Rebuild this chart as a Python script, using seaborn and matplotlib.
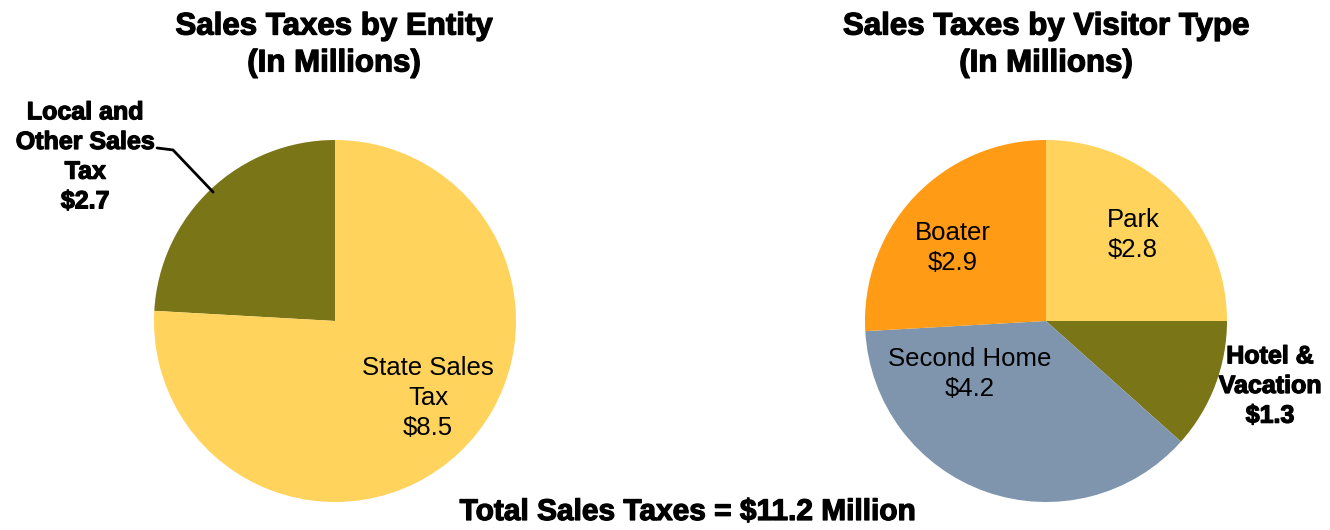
import numpy as np
import matplotlib
matplotlib.use("Agg")
import matplotlib.pyplot as plt
import matplotlib.patheffects as pe
import seaborn as sns

# ── Data ──────────────────────────────────────────────────────────────────────
entity_labels = ["Local and\nOther Sales\nTax", "State Sales\nTax"]
entity_values = [2.7, 8.5]

visitor_labels = ["Park", "Hotel &\nVacation", "Second Home", "Boater"]
visitor_values = [2.8, 1.3, 4.2, 2.9]

total_sales = 11.2

YELLOW = "#FFD35C"
OLIVE = "#7A7516"
ORANGE = "#FF9B14"
SLATE = "#7F95AD"

sns.set_theme(style="white")
plt.rcParams["font.family"] = ["Liberation Sans", "DejaVu Sans"]
plt.rcParams["text.color"] = "black"

fig = plt.figure(figsize=(13.3, 5.3), dpi=100)

R_W, R_H = 362 / 1330, 362 / 530
ax1 = fig.add_axes([(335 - 181) / 1330, 28 / 530, R_W, R_H])
ax2 = fig.add_axes([(1046 - 181) / 1330, 28 / 530, R_W, R_H])

heavy = [pe.withStroke(linewidth=0.9, foreground="black")]


def money(v):
    return f"${v:.1f}"


# ── Left pie: by entity ───────────────────────────────────────────────────────
w1, _ = ax1.pie(entity_values, colors=[OLIVE, YELLOW], startangle=90,
                counterclock=True, wedgeprops={"linewidth": 0})
ax1.set_xlim(-1, 1)
ax1.set_ylim(-1, 1)
ax1.set_aspect("equal")
ax1.axis("off")

ax1.text(0.514, -0.425, f"{entity_labels[1]}\n{money(entity_values[1])}",
         ha="center", va="center", fontsize=18.5, linespacing=1.32)

# outside label with leader line
mid = np.deg2rad((w1[0].theta1 + w1[0].theta2) / 2)
ex, ey = 0.98 * np.cos(mid), 0.98 * np.sin(mid)
ax1.plot([-0.983, -0.895, ex], [0.956, 0.945, ey], color="black", lw=2,
         clip_on=False)
ax1.text(-1.38, 0.907, f"{entity_labels[0]}\n{money(entity_values[0])}",
         ha="center", va="center", fontsize=18, fontweight="bold",
         linespacing=1.3, path_effects=heavy)

fig.text(334 / 1330, 1 - 45 / 530, "Sales Taxes by Entity\n(In Millions)",
         ha="center", va="center", fontsize=22.5, fontweight="bold",
         linespacing=1.3, path_effects=heavy)

# ── Right pie: by visitor type ────────────────────────────────────────────────
w2, _ = ax2.pie(visitor_values, colors=[YELLOW, OLIVE, SLATE, ORANGE],
                startangle=90, counterclock=False, wedgeprops={"linewidth": 0})
ax2.set_xlim(-1, 1)
ax2.set_ylim(-1, 1)
ax2.set_aspect("equal")
ax2.axis("off")

inner = {0: (0.48, 0.475), 2: (-0.42, -0.293), 3: (-0.514, 0.405)}
for i, (x, y) in inner.items():
    ax2.text(x, y, f"{visitor_labels[i]}\n{money(visitor_values[i])}",
             ha="center", va="center", fontsize=18.5, linespacing=1.32)

ax2.text(1.238, -0.359, f"{visitor_labels[1]}\n{money(visitor_values[1])}",
         ha="center", va="center", fontsize=18, fontweight="bold",
         linespacing=1.3, path_effects=heavy)

fig.text(1046 / 1330, 1 - 45 / 530, "Sales Taxes by Visitor Type\n(In Millions)",
         ha="center", va="center", fontsize=22.5, fontweight="bold",
         linespacing=1.3, path_effects=heavy)

fig.text(688 / 1330, 1 - 512 / 530, f"Total Sales Taxes = ${total_sales:.1f} Million",
         ha="center", va="center", fontsize=21.5, fontweight="bold",
         path_effects=heavy)

fig.savefig("out.png", dpi=100, facecolor="white")
